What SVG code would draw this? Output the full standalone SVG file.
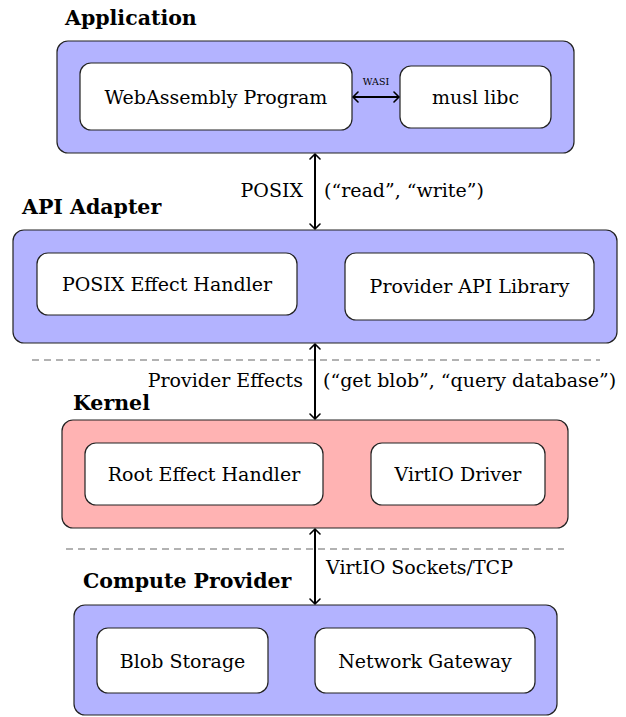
<svg xmlns="http://www.w3.org/2000/svg" width="626" height="717" viewBox="0 0 626 717">
<style>
  text { font-family: "DejaVu Serif", "Liberation Serif", serif; fill: #000; }
  .t { font-size: 19px; text-anchor: middle; }
  .lbl { font-size: 19px; }
  .title { font-size: 20.5px; font-weight: bold; }
  .small { font-size: 9.5px; text-anchor: middle; }
  .blue { fill: #b3b3ff; stroke: #222; stroke-width: 1.2; }
  .pink { fill: #ffb3b3; stroke: #222; stroke-width: 1.2; }
  .inner { fill: #fff; stroke: #222; stroke-width: 1.2; }
  .arrow { stroke: #000; stroke-width: 2; fill: none; marker-start: url(#ah); marker-end: url(#ah); }
  .dash { stroke: #666; stroke-width: 1.2; stroke-dasharray: 7 5; fill: none; }
</style>
<defs>
  <marker id="ah" viewBox="-6 -6 8 12" markerWidth="8" markerHeight="12" refX="0" refY="0" orient="auto-start-reverse" markerUnits="userSpaceOnUse">
    <path d="M -5 -5 L 0 0 L -5 5" fill="none" stroke="#000" stroke-width="1.6" stroke-linecap="round" stroke-linejoin="round"/>
  </marker>
</defs>

<g id="application">
  <text class="title" x="65" y="25">Application</text>
  <rect class="blue" x="57" y="41" width="517" height="112" rx="11"/>
</g>
<g id="webassembly-program">
  <rect class="inner" x="80" y="63" width="272" height="67" rx="11"/>
  <text class="t" x="216" y="103.5">WebAssembly Program</text>
</g>
<g id="musl-libc">
  <rect class="inner" x="400" y="66" width="151" height="62" rx="11"/>
  <text class="t" x="475.5" y="103.5">musl libc</text>
</g>

<g id="api-adapter">
  <text class="title" x="22" y="214">API Adapter</text>
  <rect class="blue" x="13" y="230" width="604" height="113" rx="11"/>
</g>
<g id="posix-effect-handler">
  <rect class="inner" x="37" y="253" width="260" height="62" rx="11"/>
  <text class="t" x="167" y="291">POSIX Effect Handler</text>
</g>
<g id="provider-api-library">
  <rect class="inner" x="345" y="253" width="249" height="67" rx="11"/>
  <text class="t" x="469.5" y="293">Provider API Library</text>
</g>

<g id="kernel">
  <text class="title" x="73" y="410">Kernel</text>
  <rect class="pink" x="62" y="420" width="506" height="108" rx="11"/>
</g>
<g id="root-effect-handler">
  <rect class="inner" x="85" y="443" width="238" height="62" rx="11"/>
  <text class="t" x="204" y="481">Root Effect Handler</text>
</g>
<g id="virtio-driver">
  <rect class="inner" x="371" y="443" width="174" height="62" rx="11"/>
  <text class="t" x="458" y="481">VirtIO Driver</text>
</g>

<g id="compute-provider">
  <text class="title" x="83" y="588">Compute Provider</text>
  <rect class="blue" x="74" y="605" width="483" height="110" rx="11"/>
</g>
<g id="blob-storage">
  <rect class="inner" x="97" y="628" width="171" height="65" rx="11"/>
  <text class="t" x="182.5" y="667.5">Blob Storage</text>
</g>
<g id="network-gateway">
  <rect class="inner" x="315" y="628" width="220" height="65" rx="11"/>
  <text class="t" x="425" y="667.5">Network Gateway</text>
</g>

<g id="separators">
  <line class="dash" x1="32" y1="360" x2="600" y2="360"/>
  <line class="dash" x1="66" y1="549" x2="564" y2="549"/>
</g>

<g id="connectors">
  <line class="arrow" x1="353" y1="97" x2="399" y2="97"/>
  <text class="small" x="376" y="85">WASI</text>

  <line class="arrow" x1="315" y1="154" x2="315" y2="229"/>
  <text class="lbl" x="303" y="197" text-anchor="end">POSIX</text>
  <text class="lbl" x="324" y="197">(“read”, “write”)</text>

  <line class="arrow" x1="315" y1="344" x2="315" y2="419"/>
  <text class="lbl" x="303" y="387" text-anchor="end">Provider Effects</text>
  <text class="lbl" x="323" y="387">(“get blob”, “query database”)</text>

  <line class="arrow" x1="315" y1="529" x2="315" y2="604"/>
  <text class="lbl" x="326" y="574">VirtIO Sockets/TCP</text>
</g>
</svg>
